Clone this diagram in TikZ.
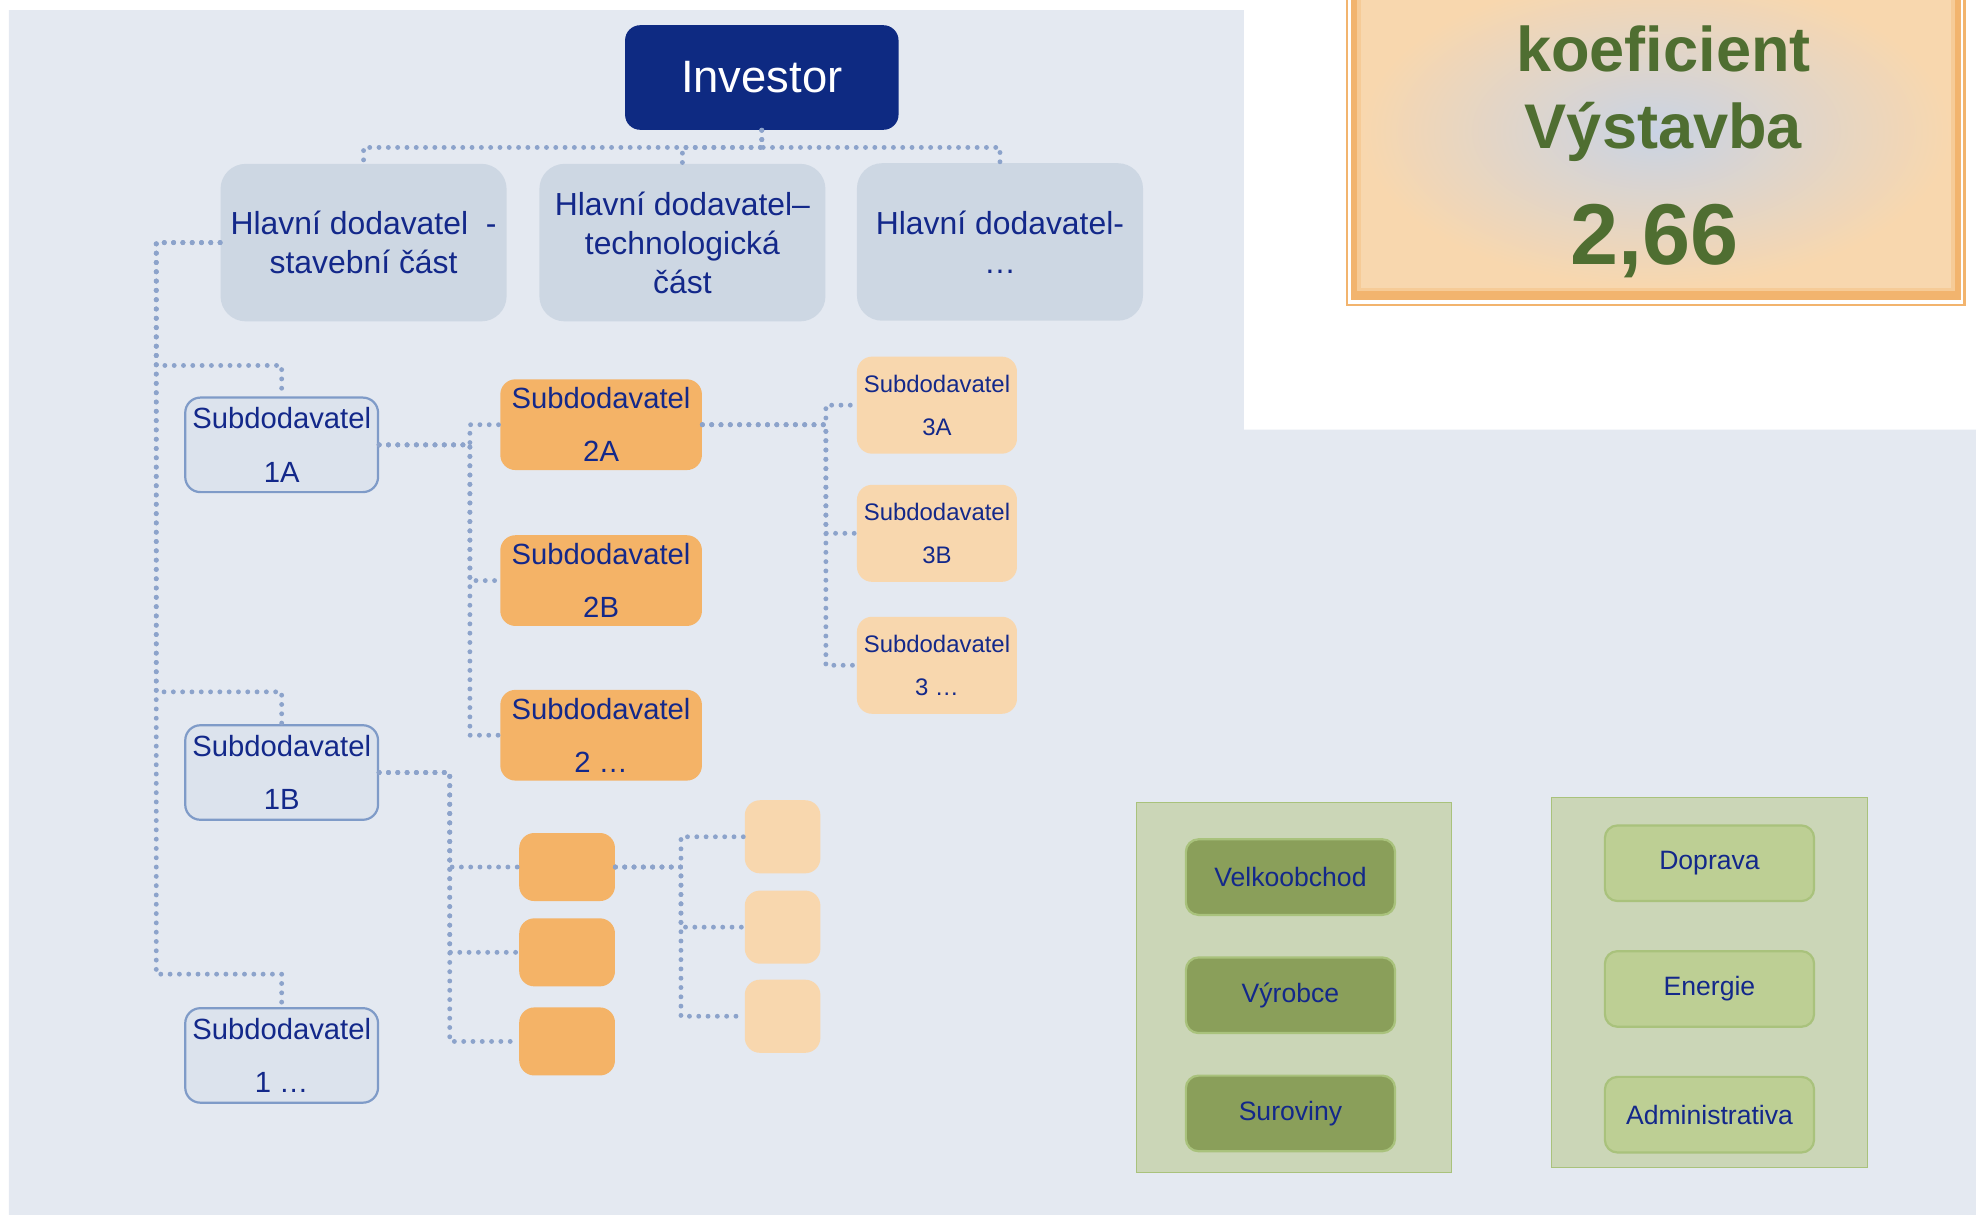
\documentclass[tikz,border=0pt]{standalone}
\usepackage{fontspec}
\setmainfont{Liberation Sans}
\usepackage{tikz}
\usetikzlibrary{positioning}

\definecolor{bgblue}{HTML}{E4E9F1}
\definecolor{navy}{HTML}{0E2A82}
\definecolor{txtblue}{HTML}{13288A}
\definecolor{mainfill}{HTML}{CDD7E3}
\definecolor{subfill}{HTML}{DCE3ED}
\definecolor{subline}{HTML}{7F9BC8}
\definecolor{linkblue}{HTML}{8CA3CB}
\definecolor{midorange}{HTML}{F4B367}
\definecolor{paleorange}{HTML}{F8D7AE}
\definecolor{frameorange}{HTML}{F2B46E}
\definecolor{framelight}{HTML}{F6CB97}
\definecolor{koefcenter}{HTML}{C9D3E4}
\definecolor{koefgreen}{HTML}{4F6E31}
\definecolor{panelgreen}{HTML}{CBD6B7}
\definecolor{panelline}{HTML}{A9C27C}
\definecolor{darkolive}{HTML}{8A9F5A}
\definecolor{lightolive}{HTML}{BDCF94}

\begin{document}
\begin{tikzpicture}[x=0.2mm, y=-0.2mm,
    every node/.style={text=txtblue, align=center, inner sep=0pt},
    link/.style={draw=linkblue, line width=2.2pt, line cap=round, dash pattern=on 0pt off 4.2pt},
    investorbox/.style={fill=navy, text=white, rounded corners=2.4mm, minimum width=43.4mm, minimum height=16.6mm, font=\fontsize{20.5}{24}\selectfont},
    mainbox/.style={fill=mainfill, rounded corners=4mm, minimum width=45.4mm, minimum height=25mm, font=\fontsize{14.4}{17.6}\selectfont},
    subone/.style={fill=subfill, draw=subline, line width=1pt, rounded corners=2.4mm, minimum width=30.6mm, minimum height=15mm, font=\fontsize{13.2}{24}\selectfont},
    subtwo/.style={fill=midorange, rounded corners=2.4mm, minimum width=32mm, minimum height=14.4mm, font=\fontsize{13.2}{24}\selectfont},
    subthree/.style={fill=paleorange, rounded corners=2.4mm, minimum width=25.4mm, minimum height=15.4mm, font=\fontsize{10.8}{19.3}\selectfont},
    smallorange/.style={fill=midorange, rounded corners=2.4mm, minimum width=15.2mm, minimum height=10.8mm},
    smallpale/.style={fill=paleorange, rounded corners=2.4mm, minimum width=12mm, minimum height=11.6mm},
    darkbox/.style={fill=darkolive, draw=panelline, line width=1pt, rounded corners=2mm, minimum width=33.2mm, minimum height=12mm, font=\fontsize{12}{14}\selectfont},
    lightbox/.style={fill=lightolive, draw=panelline, line width=1pt, rounded corners=2mm, minimum width=33.2mm, minimum height=12mm, font=\fontsize{12}{14}\selectfont},
    koef/.style={text=koefgreen, anchor=base, font=\fontsize{28.5}{32}\selectfont\bfseries}]
  \useasboundingbox (0,0) rectangle (1568,964);
  \clip (0,0) rectangle (1568,964);
  %
  \fill[bgblue] (7,8) -- (987,8) -- (987,341) -- (1568,341) -- (1568,964) -- (7,964) -- cycle;
  %
  % coefficient frame
  \fill[frameorange] (1068,-20) rectangle (1560,243);
  \fill[white] (1070,-20) rectangle (1558,241);
  \fill[frameorange] (1072,-20) rectangle (1556,238);
  \fill[framelight] (1077,-20) rectangle (1551,231);
  \shade[inner color=koefcenter, outer color=paleorange] (1080,-20) rectangle (1548,228);
  \node[koef] (koefa) at (1320,57) {koeficient};
  \node[koef] (koefb) at (1320,118) {Výstavba};
  \node[koef, font=\fontsize{39}{44}\selectfont\bfseries] (koefc) at (1313,210) {2,66};
  %
  % hierarchy
  \node[investorbox] (inv) at (604.5,61.5) {Investor};
  \node[mainbox] (hl1) at (288.5,192.5) {Hlavní dodavatel~ -\\stavební část};
  \node[mainbox] (hl2) at (541.5,192.5) {Hlavní dodavatel–\\technologická\\část};
  \node[mainbox] (hl3) at (793.5,192) {Hlavní dodavatel-\\…};
  \coordinate (bus) at (0,117);
  %
  \node[subone] (s1a) at (223.5,353) {Subdodavatel\\1A};
  \node[subone] (s1b) at (223.5,613) {Subdodavatel\\1B};
  \node[subone] (s1c) at (223.5,837.5) {Subdodavatel\\1 …};
  %
  \node[subtwo] (s2a) at (477,337) {Subdodavatel\\2A};
  \node[subtwo, below=10.2mm of s2a] (s2b) {Subdodavatel\\2B};
  \node[subtwo, below=10mm of s2b] (s2c) {Subdodavatel\\2 …};
  %
  \node[subthree] (s3a) at (743.5,321.5) {Subdodavatel\\3A};
  \node[subthree, below=4.8mm of s3a] (s3b) {Subdodavatel\\3B};
  \node[subthree, below=5.4mm of s3b] (s3c) {Subdodavatel\\3 …};
  %
  \node[smallorange] (m1) at (450,688) {};
  \node[smallorange, below=2.6mm of m1] (m2) {};
  \node[smallorange, below=3.2mm of m2] (m3) {};
  %
  \node[smallpale] (p1) at (621,664) {};
  \node[smallpale, below=2.6mm of p1] (p2) {};
  \node[smallpale, below=2.4mm of p2] (p3) {};
  %
  % connectors
  \foreach \h in {hl1,hl2,hl3}
    \draw[link] (inv.south) |- (\h.north |- bus) -- (\h.north);
  \foreach \s/\y in {s1a/290,s1b/549,s1c/773}
    \draw[link] (hl1.west) -| (124,\y) -| (\s.north);
  \foreach \s in {s2a,s2b,s2c}
    \draw[link] (s1a.east) -- ++(72,0) |- (\s.west);
  \foreach \s in {s3a,s3b,s3c}
    \draw[link] (s2a.east) -- ++(98,0) |- (\s.west);
  \foreach \s in {m1,m2,m3}
    \draw[link] (s1b.east) -- ++(56,0) |- (\s.west);
  \foreach \s in {p1,p2,p3}
    \draw[link] (m1.east) -- ++(52,0) |- (\s.west);
  %
  % sectors
  \draw[panelline, fill=panelgreen] (902,637) rectangle (1152,930);
  \draw[panelline, fill=panelgreen] (1231,633) rectangle (1482,926);
  \node[darkbox] (velk) at (1024,696) {Velkoobchod};
  \node[darkbox, below=6.4mm of velk] (vyr) {Výrobce};
  \node[darkbox, below=6.4mm of vyr] (sur) {Suroviny};
  \node[lightbox] (dop) at (1356.5,685) {Doprava};
  \node[lightbox, below=7.6mm of dop] (ene) {Energie};
  \node[lightbox, below=7.6mm of ene] (adm) {Administrativa};
\end{tikzpicture}
\end{document}
